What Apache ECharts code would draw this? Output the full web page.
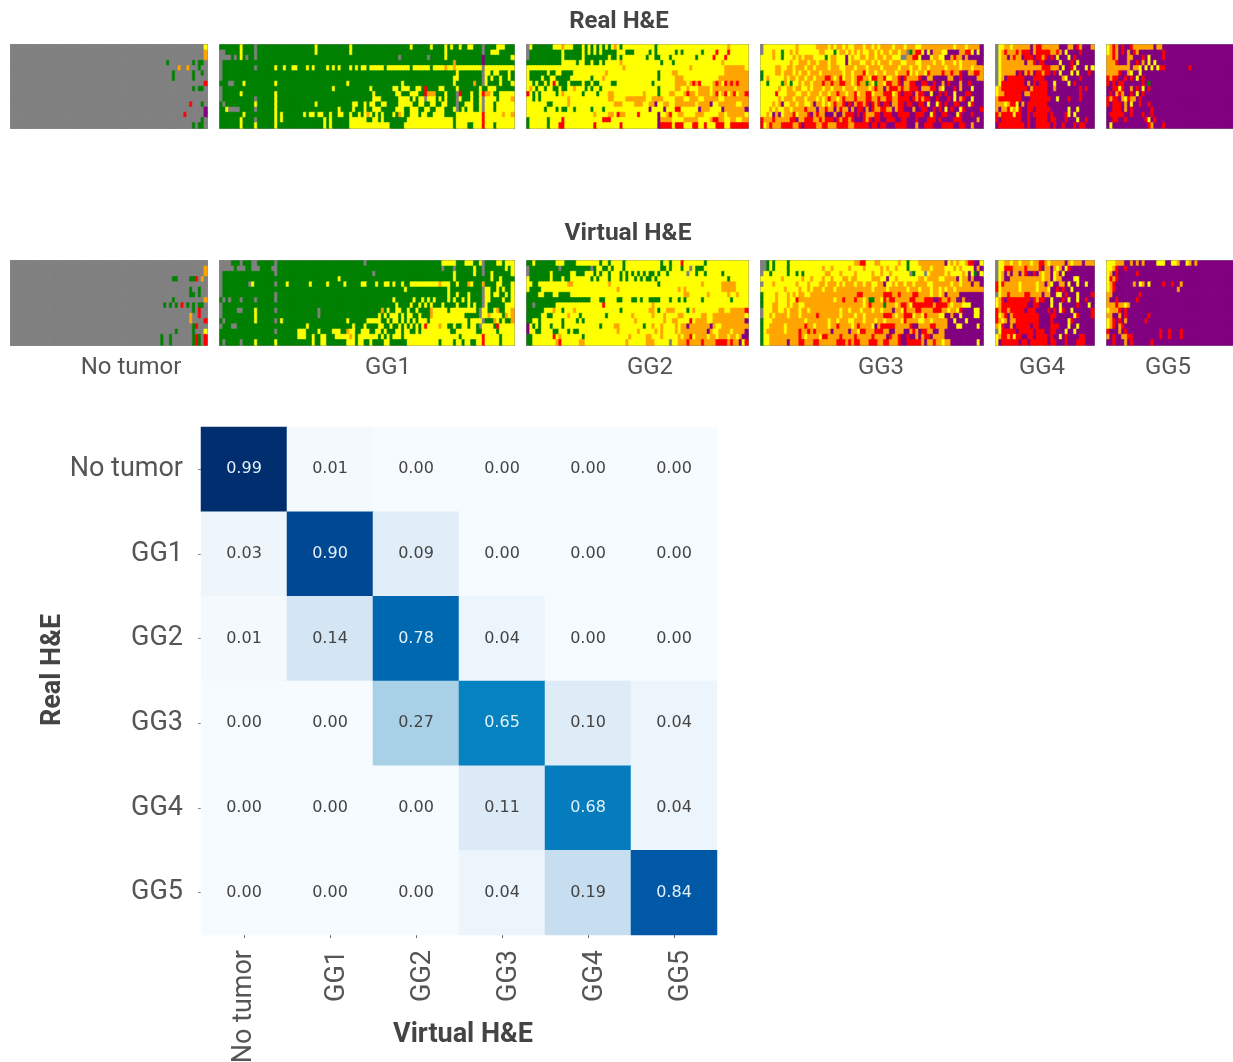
<!DOCTYPE html>
<html><head><meta charset="utf-8">
<style>html,body{margin:0;padding:0;background:#fff}#c{width:1233px;height:1062px;filter:blur(0.5px)}</style>
<script src="https://cdn.jsdelivr.net/npm/echarts@6/dist/echarts.min.js"></script>
</head><body><div id="c"></div>
<script>
const classes = ['No tumor','GG1','GG2','GG3','GG4','GG5'];
const matrixValues = [
 [0.99,0.01,0.00,0.00,0.00,0.00],
 [0.03,0.90,0.09,0.00,0.00,0.00],
 [0.01,0.14,0.78,0.04,0.00,0.00],
 [0.00,0.00,0.27,0.65,0.10,0.04],
 [0.00,0.00,0.00,0.11,0.68,0.04],
 [0.00,0.00,0.00,0.04,0.19,0.84]
];
const stripColumns = [68,102,76,76,34,43];
const stripPalette = {n:'#808080',g:'#008000',y:'#ffff00',o:'#ffa500',r:'#ff0000',p:'#800080'};

const realNoTumor = ["n67y1","n67o1","n67o1","n54g1n8g1n1g2n1","n58o1n2o1n3g1n2","n56g1n6g1n2g1n1","n56g1n6g1n4","n67r1","n63g1n1g2n1","n68","n68","n62r1n3g1n1","n67p1","n60r1n6p1","n66g1n1","n63g1n1g2n1"];
const realGG1 = [
"gggggggygg ggnggggggg g10 gggygggggg gggggygggg g10 ggggggyggg gggyggggyg yggyggyygg gnggggyyyg gg",
"nngggggygg ggnggggggg g10 gggygggggg gggggygggg g10 g10 ggggggggyg g10 gnggyyyggg gg",
"nnnngngygn ggnggggggg g10 g10 g10 g10 ggnggggggg ggngggggyg g10 gpgggggggg gy",
"nggggggggg g10 g10 g10 g10 g10 g10 g10 gogggggggg gpgggggggg gg",
"nggggggggg ggnggggggy ggyggyyggg ygyggggygy gygggygygy ygyyyyygyy yyyyyygyyy yyygyyyyoy yoyyyyyyyy ynyyyyyyyy yy",
"nggggggggg g10 g10 g10 g10 g10 g10 g10 ggyggggggg gnyygyyggg yg",
"nggggggggg g10 g10 g10 g10 g10 g10 g10 gyyggggggg gnygyggygg yg",
"gggnngggyg gggggggggy g10 g10 ggggyggggg g10 gggygggggg g10 gyggggggog gnyggggygg gy",
"nggggggggg g10 g10 gggggggggy g10 ggyggggggg yygyyyggyy grggggyygg ggyggggggg yggyyygggg gg",
"nggggggygg gggggggggy g10 g10 g10 gggygggggg gyygggyyyg grooogggyg ggnrgggygg yrooyggyyy yy",
"nggggggggg ggnggggggy g10 g10 g10 gggyyygggg ggyyyygygy ynyyygygyg ggnygggygg ynyyyygyyy yo",
"gngggggggg ggyggggggy g10 gggygggggg ggggggyygg ygyyggyygg ggyyyyyggy yggyyggyyg ggnggyyygg ynyyygyyyy yy",
"ggynnnnggg ggnggggggy g10 g10 gyggggyggg yggyyygggg gyyyggyyyg gyyggyyygg gyngygyygg ynyyygyyyy yy",
"ggggggggyg gggggggggy gygggggggy gyygyyggyg gyyggyggyg yoygygyggg ygoyggyyyg yyggyyyygg ggyyyyyyyy yryyyyyyoy yo",
"gggggggygg ggnggggggy gygggggggg ggggggygyg gggggyyyyy yggyygyggg gggggyyyyy yyyyyyyyyy ygyyyyyyyy yryyyyyyyy yy",
"gggggggygg ggyggggggy g10 ggggggygyg gggggyyyyy yyyyyyyyyg ggggyyyyyy yyyyyyyyyy ygyyyyggyy yryyygyyyy yy"
];
const realGG2 = [
"nygggggggy yyoyyygggy gygygygygy oygyyyyyyy yyyygyyyyy yyyyyyyyyy yyyyyyyyyo yyyyyy",
"nggggggggg ggyggggggy gygygygggg gyyygggyyy yygygyyyyy ygygyyyyyy gyyyyryyyr yyyyyy",
"nggggggggg ggyggggggy ggggggggyg gygyyyyyyy ygyyggyyyg yyyyyyyygy yyyyryyyry yyyyyy",
"gggggggggg ggyyyyygyy ggyggygyyy yyoyyyyyyy yyyyyygyyy gyyyyyyyyy yyyyyyyoyy yyyyyy",
"yyyyyyyyyy yyyyyyyyyy yyyyyyyyyy yyyoyyyyyy yyyyyyyyyy yyyyyyoyyy yyyyyyyyoo oooooy",
"yggggggygg yyggggyyyy yyyyyyyoyy yyyyyyyyyy yyyyygyyyy ooyyyyyyyy yyyyyyyyoo oooooo",
"yggggyggyy gggggyyyyy yygyyyoyyy yyyyyyyyyy yyyyygyyyy yoooyyyyyy yyyyyyoooo oooooo",
"yygyggygyr ygggyggggy ggyggyyyyg gyyyyyyyyy yyygyyyyyy yooooyoror yyyyoroyro rorooo",
"yoygyygyyg gyggyyoyyy gygyygyyyy yyyyyyyyyy yyyyygyyyy yooyyoyyyo oooyoooooo oooooo",
"rygygyyyyy gyoyyyyyyg yyyygyyyoo yyyyyyyyyy oyyyygyyyo oyyyorooyo oooyoryory oryoor",
"yygygyyyyy yyyyoyyyyy yyyyyyyyoo yyyyoooooo oyyooooyyy yoooyyoooy yoooooyyoo oooooo",
"yyyyyyyggy yyyyoyyyyy yyyyyyyyyy oooyyyyooo yyoopyyooy yoooooooyo ooopyyoooo ooyyoo",
"yyyyyygyyy gyggyygyyy yygyyygyyy yyyyyyyyyy yypyyyypyy yrryyyyyyp oooyyyypoo ooooop",
"yyyyyyyyyy yyyyyyyyyy yyyoyyyyoo yrooyyyyry yyyyypyyor yyooyyyyoo oyyyyyooyo oooooy",
"gyyyyyygyy yyryyyyyyy yyyyyyrrry yyyyyyyyyy yyyyypoooo yyyyoooooy yyyorrooyy ooyyoo",
"gyyyyyygyy yrryyyyyyy yyyryyyyyy yyryyyyyyy yyyyyprrrr yrrryyyrry yryyyrrryy rrrrrr"
];
const realGG3 = [
"nyyyyyyyyy yyoyyyyyyo oooyoyooyo yyoooyooyo yooooyoooy oooyyooooo ooooooyooo yoooop",
"nyyyoyygyy oyoyyyyyyy ooyyygyooy oyoyoyyooy oyooyooyoo ngorrypypo ooyyppppoo rrypyp",
"yyyyoyygyy yoyoyoooyy yygyooyyyp yoyyooyooy ooyooyyynn oorrypppyo oyypporoop oppppp",
"yyyyyyyyyy oyyoooyooy oooyooyyyp yoooyyooyo yoooyoooyy oooyyooooy ooyoooyoyo oooopp",
"yyyyyooyyo oyoooyooyo oooyoooyyo ooyoooyooo oyoooooyoo oyooyooyoo oooyooooyo ooyooo",
"gyyyyooyoo oyoyooyooo yoooooooyo oyoooryooy ooyoooyooo ryoyooyroo oorooroorp poorro",
"gyoyyyyyoy ooyooyooyo oorroyoryo oyorrooyrr ooryyoorpr oooorppoop ppppoopprp ppppoo",
"yygyyyygoy gyyoyooyoo orooroorro oyoroogoyg ooyrroorpo orrpprrppr ppoprpppop prpppp",
"yyyyyyoyyo oyooyyoyoo oyooyoooyo ooyooooyor ooporrroro orrrpooorr poyppprpop ppyppp",
"yyyyyryyyo ooyyooyooo yooyoorooy ooryoorryo oorrryorpr rrporrppyp prprppyppp rrpppp",
"yyyyyyoyoo oyoooyoooy oyorooyoro oorooorroo roorroorrr rprororrpp rppprpypor ppyppp",
"yyyyoyopyy ooyooyyopo oyoyoroorp rporrorpro rprrpoorrp rrpprrpypp yrprpprrpp pyrppp",
"yyyoyoyyoo yoooorooop oorooporoo poprrpopro orrooporrp ppopprrppr prpyprppyr pppppr",
"yyoypopyoo oryooorpor oopppoppor rrprprooor rprrrpprrr rpprrrppyr pprrpppyrp pprppp",
"rooorooooo rrpoorrroo rorrrprorr orppprorpr rpprrrpprr ppprppprrr prpppprrrp ppppop",
"ryorooorrr roorprrrro orrooorrrr oorrrrrprr prrppprrrr pppopprrrp pprrrrpprr ppoppp"
];
const realGG4 = [
"nyyooyoooo ooporroooo oopppoopro pppo",
"nyoroooror rrporrrrro oropyppppr pppp",
"nyooporoop rrrprrorpr pypppyprpp pppp",
"nyoooooooo poorprrppp ppyppprpyp pppp",
"nyoooooooo oooooorrro oopypprypp pypy",
"nyoooooprp oroprrorrp rpypppypyp pprp",
"nyoprrrrrr ppprrrrppp pppoyppppr pppp",
"nyrrrrrrrr poprprrrpp yppppyprpp pppp",
"yorrrrrrrr rporrrrrpp oppppppppr prpp",
"yoorrrrrrp oorrrrrrpp pppppppppr pppp",
"orrrrrrrrp pprrrrrrrp pyppprpppr pppp",
"oooyorrypo prrrrrrrpp pppppppppp pppp",
"opooryoyrp prrprrrrrp pppppyppyp pppp",
"rorrrryrrp prprrrrrpr pppprypypp pppp",
"rprrrrrrrp prpprrrrpr rppprpppyp prpp",
"prrrrrrrrr prpprrrrrp rpprppprpr rppp"
];
const realGG5 = [
"yoroprppro oooooopoop pppppppppp pppppppppp ppp",
"yoroprpopr oppppppppr pppppppppp pppppppppp ppp",
"ooropppoop pprpyppppr pppppppppp pppppppppp ppp",
"ooorpppopp rpopypyppp pppppppppp pppppppppp ppp",
"oooooooopo oypypypyrr pppppppprp pppppppppp ppp",
"oooorppoyp pypppppppp pppppppppp pppppppppp ppp",
"rorrpprprp yprppppppp pppppppppp pppppppppp ppp",
"rprprrpppp pprpgppppp pppppppppp pppppppppp ppp",
"pprryrppop rpyprppppp pppppppppp pppppppppp ppp",
"prporopprp yprppppppp pppppppppp pppppppppp ppp",
"rorrpoyroo prpppppppp pppppppppp pppppppppp ppp",
"rprrrpopyp prpprppppp pppppppppp pppppppppp ppp",
"pprrrpoprp ppppprpppp pppppppppp pppppppppp ppp",
"prrrrrpprp pprpprpppp pppppppppp pppppppppp ppp",
"pprrpprppp pppryprppp pppppppppp pppppppppp ppp",
"pyppppppppp pppropppr pppppppppp pppppppppp ppp"
];

const virtualNoTumor = ["n68","n67o1","n67o1","n56g2n4g2r1n1o1n1","n68","n62g1n2g1n2","n62g2n1g1n2","n56g1n10o1","n53g1n1g1n1g1n1r1n1g1n1g1n1g2n1","n63g1n1r1n2","n62o1n2r1n2","n62o1n4r1","n63g1r1n3","n57g1n5g1n3y1","n52g1n2g1n7g1r1g1n1r1","n52g1n2g1n7g1r1g1n1r1"];
const virtualGG1 = [
"nnnngggngg gnnggggggn g10 g10 g10 nggggggggg g10 gggggggyyy yygggyyygg ynggggyygy yy",
"nnnnngnnng gnnnggggnn g10 g10 g10 g10 g10 gggggggngg gnggggggyg gngggggggy gy",
"nggggggggg gggggggggn g10 g10 g10 gggngggggg g10 g10 gyggggggyg gnggyggggg gy",
"nggggggggg g10 g10 g10 gygggggggg g10 g10 g10 gygggggggg ggggyggygg gg",
"nggggggggg nygggggggn gggygggggg gygggggygg gggygggggy ygggyggyyg yggyggyyyy yyyyyyoyyy ggygggoygg goggggyygg gy",
"nggggggggg g10 g10 g10 g10 g10 ggggyggggg gggggggggy g10 gnyyggygyg gy",
"nggggggggg gggggggggn g10 g10 g10 g10 g10 gggggggggy ggygggyggg gnyygyyggy gy",
"gngngggngg ggnggggggn g10 g10 g10 g10 yggggggygg ygygyggggy gyggygyggg gnyyggggyg gy",
"nggggggggg g10 g10 g10 g10 g10 gyggggyggy gygygggygg ggygggygyg gnyggggggy yy",
"ngggggnngg ggyggggggn g10 ggggnggggg g10 ggggggogyg gyyggyggyg gggoyyyyyg yyyyyyyyyg nyyggyoggy yo",
"nggggggggg ggyggggggg g10 ggggnggggg g10 gggggygygy yygygyyggy gggoyyyyyy yyyyyggggg nyyoyyyygo yo",
"gngggggggg ggyggggggn gygggggggg g10 ggggyggggg gyyyyyggyg yygygygygy yygyyyyyyy yyyyyygyyy yngggoygyg go",
"ngggnngggg gggggggggg g10 yggggggggg ggggggyggg yggggyyggy ggygygygyg yryyyyoyyg gyggyygyyg nyyyygryyy yy",
"g10 gggggggggn gggggggyyy ggggyggggy yyggoyyggy yyggyygygg gyygyyggyg yyyyyyyyyy ggyyyyyyyg gyyyyygyyy yy",
"g10 g10 gggggggyyy ggyggyyggg yyyyyoygyy yyyyygygyg yyygyyyyyy yyyyyyyyyy yyygyyyyyy yryyyyygyy yy",
"gngggggngg ggyggggggy g10 ggyggyyggg ggggyyygyy ggyggggyyg gggggyyyyy yyyyyygyyy ygyygyyggy yryyyyygyy yy"
];
const virtualGG2 = [
"ggyggggggg yyyggggyyy yyyyygyygy yyygyyyyyy yyyyyygyyg yyyryyyyyy ygyyyyyyyy yyyyyy",
"nggggggggg gngggggggg ggngyyggyg yyygyyyyyy yyyyyyggyg yyygyynygg gyyyyyyyyy yyyyyy",
"ngggggggyg gggggyyggg yyygygyygy yygygygygy gyggygyygy yyyyynyygy ygyyyyygyy yyyyyy",
"ygggggggyg ggyggyyyyy yygygyyygy yygygyygyg yggygyyyyy yyyyyyyyyy yyyyyyyyyg yyyyyy",
"yyggyyyyyy yyyyooyyyy yyyyyyyyoy yyyyyyyyyy yyyyygyyyy yyyyyyyyyy oyyyyyyooo ooyyyy",
"yggggyyyyy yyyyyyyyyy yyyyyyyyyy yoyyyyyyyy yyyyyyyyyy yyoyoyyyyy yyyyyyyooo ooyyyy",
"ggggyygggy yggggyyyyy yyyyyyyyyy yyyyyyyyyy yyyyyyyyyy yyyyooyyyy yyoyyyyyyo yyoyyy",
"gggggggggg gggggggggg ggyyyggyyy yggyyyggyg yyggggyyyg yygygyyyyy gyyyyyyyyy gyyyyy",
"ggnggggggg yyyyyyyyyy yyyyyyryyy yyyyyyyyyy yyyoyyyyyy yyyyyyyyyy yyyyyyyyyy yyyyyy",
"ggggggyyyo yygyyyoyyy yyyyyyyyyy yygyyyyyyy yyooygyyoo oyyyygyoyy yyyyyyooyy ooooor",
"gggggyyggy yyyyoyyygy yyyyyyygyy yyyyyyoyyy yyyoyyyoyy yyooyyyyyy ooyyoooooo oooooy",
"ggyygyyyyy yygyyyygyg yyyyyyyyyy yyyyyyyoyy yyyyyyyoyy ooyyyyryoo ooyyoooooo ooooop",
"pygygyyygy yygyyyyyyy yyyyygyyyy ooyyyyyyyy gyyoyyoyyy yoyoopoooo ooopoyyooo oooooo",
"pyyggyyyyg gyyygyggyy yyyyyyyyyy yoyyyyyyoy yyyyoyoyyy yoyooooooo oopoyyoooo yoooop",
"ggyyyyyyyr yoyyyyyyyg yyyyyyyyyy yyyyyoyyyy yooyyyoyyy yyoyooryoo ooyooyoooy ooyopp",
"ggyyyyyyyy oryyyyyyoo yyyyyyyyyy yyyyoyyyyy yoooyyyyyn yyoooroooo roooorrrro roopyr"
];
const virtualGG3 = [
"nngygyyyyg yyyyyyyyyy yyyyyyyyyy yyoorryyyo oyyyyyyoyy gyyyoooooo ooopyoyoyy orrppy",
"nngygyyyyg yyyyyyyyyy yoyyoyyyyy oyyyyoyyyy yoyoyyoyyy gyyyyoooyo oooyyyoyoy yyypop",
"nyygyyyyyg yygygyyyyy yyooyyyoyy yyoyyyyyoy yoyyoyyyyy yngyyynyoo oooyoyyyyo ypygpy",
"yyyyyyyoyy yyyyoyyoyy yoyyoyyyoo yooyyyyyoo oyypyyoyyy yyyyooyooo oyyoooopyo opoppp",
"nyyyoyyyyy yyoyyyoyyy ooyoooyoyo ooyooyooyy oopyyoyooy ooyooooyyo oooooyooyo oopoop",
"yyyyyyyyoy yyyoyyoyoo oyoooyoooo ooooooooyo oooyoooooo yoooyoooyo oyoyooyooo oooooo",
"gyyyyoyyyo yoyooyyooo oooooooooo ooorrooooo oorrrooroo oorrooooyo oyopoooopp pppppp",
"gyyyyoyyyo yyrooooooo oooooyooro oorooyoggo oyrorroooo orrooorrrp proorooppo pppppp",
"gyyyooyyyo yooyyooooo oooooooooo oooooyoroo oogoooyorr oyrrrrrrro rrrroyoooy yypppp",
"nyyyooyyoy oooyooyooo oooooooyoo yoooyoooyo oyooopooyr ooorroooor rrooyooyrp pppyyp",
"nyyoyooooy oooyooooor oooooooyoo ooyooyoooo oorrroyoor rryooyrooo oyyppoppyp pppyyp",
"gyyyoooooo oooooyoooo oooyooyooo yyoooyoooy ooyoooooyr ooooyyooyo ooooppyppp yppppp",
"gyyoooooyo ooooorooyo oooyoorooo oyorooooyp orrrrroooo orppoooorr oooopppyyp ppppyp",
"gyooooooyo oooroororo oooopooooo pooyrrooor rrooppooop poroprroop pooppppppp pppppp",
"gyyooooooo oooroyoooo yrrooooroo ooroooooro oooproorpp rppoporrpo oooppppppp pppppp",
"gyyoooooop ooorrooorr oooooorrro rorrooorrr oorrooorpp rrrrropoor ooyooppppp ppppyp"
];
const virtualGG4 = [
"nyyooyooyo ooyoorroyo oooopoyooo pooo",
"nyyrrroooo roooorpoop oyopyrpppp pppp",
"nyopopoopo rpprpoyoop yopypppppp pppp",
"nyoppooooo ooooooyoop yooppppyyp pppp",
"ryroooooyo ooooyoopoy ppoopyppyp pypp",
"ryooooooyo ooooyoooyp prprppyppp pppp",
"nyoorooooo rroooopoop pyyprpppyp pppr",
"yorprrrrrr rrprorrppy ppprpyppyp prpp",
"yorrrrrrrr rpprrppppy ppyppppprp ppyp",
"rorrorrrrr prrrpppprp rpyrppyppp pppr",
"ryorporrrr rrrrrppppr rppppppyrp pppr",
"royopoorrr rrrrrppppr pppppyrppp pppp",
"oyrppoprrr rrprrppppr rrpppyppyp pppp",
"nyrrrrrprr rrrprrrppr rpppyppypp pppp",
"yorroryrrp prrprrrrpr ppyprppppr rppp",
"yprrrrrrpr rprrrrrrpr rppprppprr rppp"
];
const virtualGG5 = [
"yyyoooppop opoppppyyy ppyyoppyop oppppppppp ppp",
"yyorpprppp pppppppppp pppppppppp pppppppppp ppp",
"yoprpppppp rppppppppp pppppppppp pppppppppp ppp",
"yrorpppppp pppppppppp pppppppppp pppppppppp ppp",
"yorppppppo pyopyppppr pprppopppp pppppppppp ppp",
"yorppppppp pppppppppp ppppoppppp pppppppppp ppp",
"oopppppppp prpppppppp pppppppppp pppppppppp ppp",
"opprpppppp rppppppppp pppppppppp pppppppppp ppp",
"ooorooyopp pppppppppp pppppppppp pppppppppp ppp",
"yooorprppp pppppppppp pppppppppp pppppppppp ppp",
"ooppoprppp pppprppppp pppppppppp pppppppppp ppp",
"yorprpoppp ppprpppppp pppppppppp pppppppppp ppp",
"yorporpppp pppppppppp pppppppppp pppppppppp ppp",
"rpppoprppp pppppppprp prppprpppp pppppppppp ppp",
"oprppoorrp pppppppprp prppprpppp pppppppppp ppp",
"pprpppoprp ppppprpppp pppppppppp pppppppppp ppp"
];

const realRows = [realNoTumor,realGG1,realGG2,realGG3,realGG4,realGG5];
const virtualRows = [virtualNoTumor,virtualGG1,virtualGG2,virtualGG3,virtualGG4,virtualGG5];
const stripLabelX = [131,388,650,881,1042,1168];
const panelLeft = [11,220,527,761,996,1107];
const panelRight = [207,514,748,983,1094,1233];
const stripBands = [[45,128],[261,345]];

function parseRow(s, width){
  let out = '';
  for (const m of s.matchAll(/([a-z])(\d*)/g)) out += m[1].repeat(m[2] ? +m[2] : 1);
  const last = out[out.length-1];
  while (out.length < width) out += last;
  return out.slice(0, width);
}
const grids=[], xAxes=[], yAxes=[], series=[];
function addStrip(rows, col, band){
  const w = stripColumns[col], idx = grids.length, data = [];
  rows.forEach((r, j) => {
    const cells = parseRow(r, w);
    for (let i = 0; i < w; i++) {
      const c = stripPalette[cells[i]];
      data.push({value:[i,j,1], itemStyle:{color:c, borderColor:c, borderWidth:0.5}});
    }
  });
  grids.push({left:panelLeft[col], width:panelRight[col]-panelLeft[col], top:band[0], height:band[1]-band[0],
    outerBoundsMode:'none', show:true, backgroundColor:'#fff', borderColor:'#8c8c8c', borderWidth:2});
  xAxes.push({type:'category', gridIndex:idx, show:false, data:Array.from({length:w},(_, i)=>i)});
  yAxes.push({type:'category', gridIndex:idx, show:false, inverse:true, data:rows.map((_, i)=>i)});
  series.push({type:'heatmap', xAxisIndex:idx, yAxisIndex:idx, data, progressive:0, silent:true, animation:false, emphasis:{disabled:true}});
}
realRows.forEach((rows,i)=>addStrip(rows,i,stripBands[0]));
virtualRows.forEach((rows,i)=>addStrip(rows,i,stripBands[1]));

const mi = grids.length;
grids.push({left:201, top:427, width:516, height:508, outerBoundsMode:'none'});
const labelStyle = {fontFamily:'Roboto', fontSize:27, color:'#555'};
xAxes.push({type:'category', gridIndex:mi, data:classes, position:'bottom',
  axisLine:{show:false}, axisTick:{show:true, length:3, alignWithLabel:true, lineStyle:{color:'#666'}},
  axisLabel:{...labelStyle, rotate:90, margin:15, interval:0,
    formatter:v=>v==='No tumor'?`{n|${v}}`:`{a|${v}}`,
    rich:{n:{...labelStyle}, a:{...labelStyle, padding:[14,0,0,0]}}},
  splitLine:{show:false}, splitArea:{show:false}});
yAxes.push({type:'category', gridIndex:mi, data:classes, inverse:true,
  axisLine:{show:false}, axisTick:{show:true, length:3, alignWithLabel:true, lineStyle:{color:'#888'}},
  axisLabel:{...labelStyle, margin:18, interval:0},
  splitLine:{show:false}, splitArea:{show:false}});
const matrixData = [];
matrixValues.forEach((row,j)=>row.forEach((v,i)=>matrixData.push({value:[i,j,v], label:{color:v>=0.5?'#e4f0f8':'#444'}})));
series.push({type:'heatmap', xAxisIndex:mi, yAxisIndex:mi, data:matrixData, silent:true, animation:false, emphasis:{disabled:true},
  label:{show:true, fontFamily:'DejaVu Sans', fontSize:16, formatter:p=>p.value[2].toFixed(2)}});

const elements = [];
function t(text,x,y,size,bold,rotation){
  elements.push({type:'text', x, y, rotation:rotation||0, silent:true, style:{text, fontFamily:'Roboto', fontWeight:bold?'bold':'normal',
    fontSize:size, fill:bold?'#444':'#555', align:'center', verticalAlign:'middle'}});
}
t('Real H&E',619,22,24,true); t('Virtual H&E',628,234,24.5,true);
classes.forEach((c,i)=>t(c,stripLabelX[i],368,24,false));
t('Virtual H&E',463,1035,27,true);
t('Real H&E',53,670,27,true,Math.PI/2);

const chart = echarts.init(document.getElementById('c'),null,{renderer:'canvas'});
chart.setOption({animation:false, backgroundColor:'#fff', grid:grids, xAxis:xAxes, yAxis:yAxes, series, graphic:{elements},
  visualMap:{show:false, type:'continuous', seriesIndex:series.length-1, dimension:2, min:0, max:0.99,
    inRange:{color:['#f5fbfe','#d9e8f6','#b5d6ea','#6fb6dc','#2a9bd0','#0a88c4','#0070b8','#0052a2','#002e6e']}}
});
</script></body></html>
